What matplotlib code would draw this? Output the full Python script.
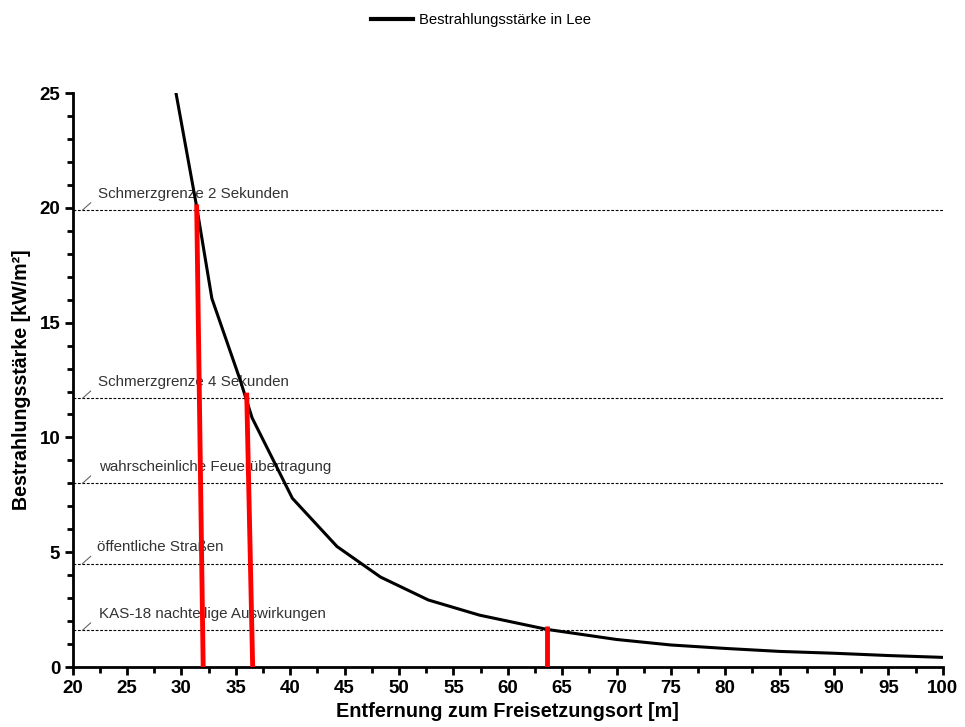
import matplotlib
matplotlib.use("Agg")
import matplotlib.pyplot as plt
from matplotlib.ticker import MultipleLocator

plt.rcParams['font.family'] = ['Liberation Sans', 'DejaVu Sans']

# Curve: irradiance in lee
dist = [29.5, 31.4, 32.8, 35.4, 36.5, 40.2, 44.3, 48.3, 52.7, 57.4, 63.6, 70.0, 75.0, 80.0, 85.0, 90.0, 95.0, 100.0]
irr = [25.0, 20.05, 16.05, 12.5, 10.85, 7.35, 5.25, 3.92, 2.92, 2.26, 1.64, 1.2, 0.96, 0.81, 0.68, 0.6, 0.5, 0.42]

# Threshold lines
thr_values = [19.9, 11.7, 8.0, 4.5, 1.6]
thr_labels = ["Schmerzgrenze 2 Sekunden", "Schmerzgrenze 4 Sekunden",
              "wahrscheinliche Feuerübertragung", "öffentliche Straßen",
              "KAS-18 nachteilige Auswirkungen"]
thr_label_x = [22.35, 22.35, 22.4, 22.2, 22.4]

# Red marker lines (x_top, y_top, x_bottom)
red_x_top = [31.4, 36.0, 63.6]
red_y_top = [20.15, 11.95, 1.8]
red_x_bot = [32.0, 36.55, 63.6]

fig = plt.figure(figsize=(9.65, 7.27), dpi=100)
ax = fig.add_axes([0.0753, 0.0825, 0.9017, 0.7895])

for v, lab, lx in zip(thr_values, thr_labels, thr_label_x):
    ax.plot([20, 100], [v, v], color='black', lw=0.8, ls=(0, (2.5, 1.5)), zorder=1)
    ax.plot([20.9, 21.65], [v, v + 0.32], color='#666666', lw=0.8, zorder=1)
    ax.text(lx, v + 0.42, lab, fontsize=10.9, color='#333333', ha='left', va='bottom', zorder=2)

line, = ax.plot(dist, irr, color='black', lw=2.2, zorder=3, label='Bestrahlungsstärke in Lee')

for xt, yt, xb in zip(red_x_top, red_y_top, red_x_bot):
    ax.plot([xt, xb], [yt, 0], color='#ff0000', lw=3.5, zorder=4, solid_capstyle='butt')

ax.set_xlim(20, 100)
ax.set_ylim(0, 25)
ax.xaxis.set_major_locator(MultipleLocator(5))
ax.xaxis.set_minor_locator(MultipleLocator(2.5))
ax.yaxis.set_major_locator(MultipleLocator(5))
ax.yaxis.set_minor_locator(MultipleLocator(1))

for s in ['top', 'right']:
    ax.spines[s].set_visible(False)
for s in ['left', 'bottom']:
    ax.spines[s].set_linewidth(2)

ax.tick_params(which='major', direction='out', length=6, width=2, labelsize=13.5, pad=3)
ax.tick_params(which='minor', direction='out', length=4, width=2)
for lbl in ax.get_xticklabels() + ax.get_yticklabels():
    lbl.set_fontweight('bold')

ax.set_xlabel('Entfernung zum Freisetzungsort [m]', fontsize=14.3, fontweight='bold', labelpad=4)
ax.set_ylabel('Bestrahlungsstärke [kW/m²]', fontsize=14.1, fontweight='bold', labelpad=6)

fig.legend(handles=[line], loc='center', bbox_to_anchor=(0.4985, 0.972), frameon=False,
           fontsize=10.7, handlelength=2.8, handletextpad=0.45)
for h in fig.legends[0].get_lines():
    h.set_linewidth(3)

fig.savefig('out.png', dpi=100)
